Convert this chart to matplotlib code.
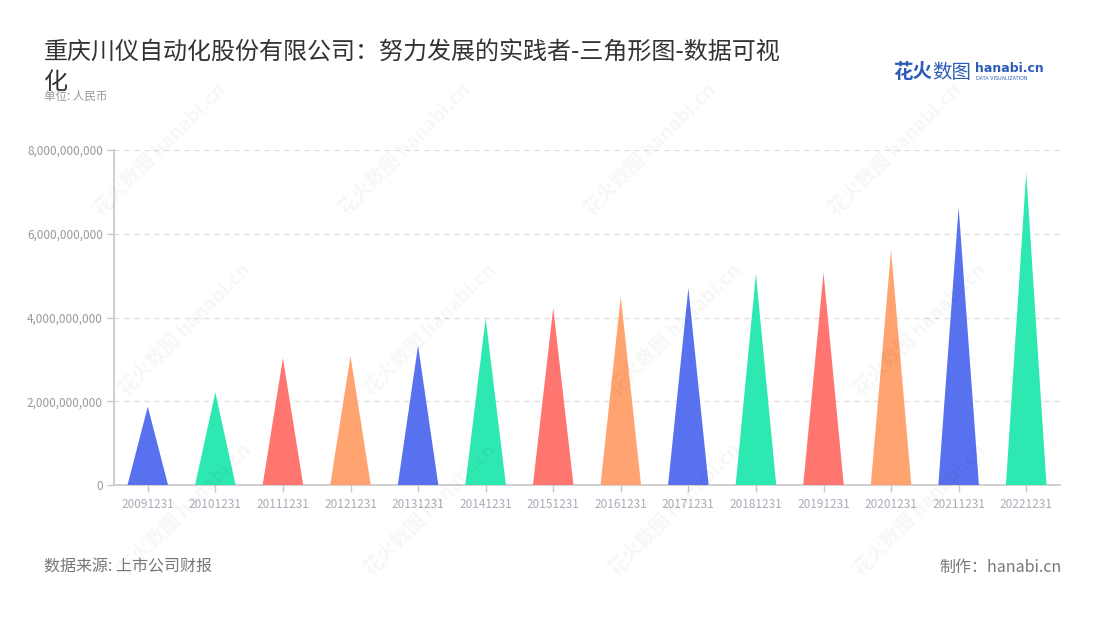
import numpy as np
from matplotlib import pyplot as plt
from matplotlib.ticker import FuncFormatter

plt.rcParams["font.family"] = ["Noto Sans CJK SC", "DejaVu Sans"]

# data
dates = [
    "20091231", "20101231", "20111231", "20121231", "20131231", "20141231", "20151231",
    "20161231", "20171231", "20181231", "20191231", "20201231", "20211231", "20221231",
]
values = [
    1.87e9, 2.21e9, 3.03e9, 3.08e9, 3.33e9, 3.98e9, 4.23e9,
    4.50e9, 4.70e9, 5.04e9, 5.07e9, 5.61e9, 6.63e9, 7.46e9,
]
palette = ["#5871ee", "#2de8b0", "#ff7670", "#ffa370"]
y_ticks = [0, 2e9, 4e9, 6e9, 8e9]

title = "重庆川仪自动化股份有限公司：努力发展的实践者-三角形图-数据可视\n化"
unit = "单位: 人民币"
source = "数据来源: 上市公司财报"
maker = "制作：hanabi.cn"

fig = plt.figure(figsize=(11, 6.2), dpi=100)
ax = fig.add_axes([114 / 1100, 135 / 620, 946 / 1100, 335 / 620])

half = 0.3
for i, v in enumerate(values):
    ax.fill(
        [i - half, i, i + half],
        [0, v, 0],
        color=palette[i % len(palette)],
        linewidth=0,
        zorder=3,
    )

ax.set_xlim(-0.5, len(dates) - 0.5)
ax.set_ylim(0, 8e9)
ax.set_xticks(range(len(dates)))
ax.set_xticklabels(dates)
ax.set_yticks(y_ticks)
ax.yaxis.set_major_formatter(FuncFormatter(lambda v, _: f"{int(v):,}"))

ax.grid(axis="y", color="#dddddd", linestyle=(0, (4, 4)), linewidth=0.9, zorder=0)
for side in ["top", "right"]:
    ax.spines[side].set_visible(False)
for side in ["left", "bottom"]:
    ax.spines[side].set_color("#c8c8c8")
    ax.spines[side].set_linewidth(1.2)
ax.tick_params(axis="y", colors="#c8c8c8", labelcolor="#999999", labelsize=8.5,
               length=5, width=1, pad=3)
ax.tick_params(axis="x", colors="#c8c8c8", labelcolor="#a9abb8", labelsize=8.5,
               length=5, width=1, pad=4)

# watermarks
wm_pos = [(160, 150), (405, 150), (650, 150), (895, 150),
          (185, 330), (430, 330), (675, 330), (920, 330),
          (185, 510), (430, 510), (675, 510), (920, 510)]
for x, y in wm_pos:
    fig.text(x / 1100, 1 - y / 620, "花火数图 hanabi.cn", rotation=45,
             color="#000000", alpha=0.035, fontsize=14, fontweight="bold",
             ha="center", va="center", zorder=0)

fig.text(44 / 1100, 1 - 40 / 620, title, fontsize=17.3, color="#333333",
         ha="left", va="top", linespacing=1.15)
fig.text(44 / 1100, 1 - 96 / 620, unit, fontsize=8.3, color="#999999",
         ha="left", va="center")

# logo
fig.text(893 / 1100, 1 - 72 / 620, "花火", fontsize=14, fontweight="bold",
         color="#2c5cb8", ha="left", va="center")
fig.text(932 / 1100, 1 - 72 / 620, "数图", fontsize=14, color="#2c5cb8",
         ha="left", va="center")
fig.text(975 / 1100, 1 - 69 / 620, "hanabi.cn", fontsize=9, fontweight="bold",
         color="#2c5cb8", ha="left", va="center", family=["DejaVu Sans"])
fig.text(976 / 1100, 1 - 79 / 620, "DATA VISUALIZATION", fontsize=3.5,
         color="#2c5cb8", ha="left", va="center", family=["DejaVu Sans"])

fig.text(44 / 1100, 1 - 567 / 620, source, fontsize=11.5, color="#777777",
         ha="left", va="center")
fig.text(1062 / 1100, 1 - 567 / 620, maker, fontsize=11.5, color="#777777",
         ha="right", va="center")

fig.savefig("out.png", dpi=100)
